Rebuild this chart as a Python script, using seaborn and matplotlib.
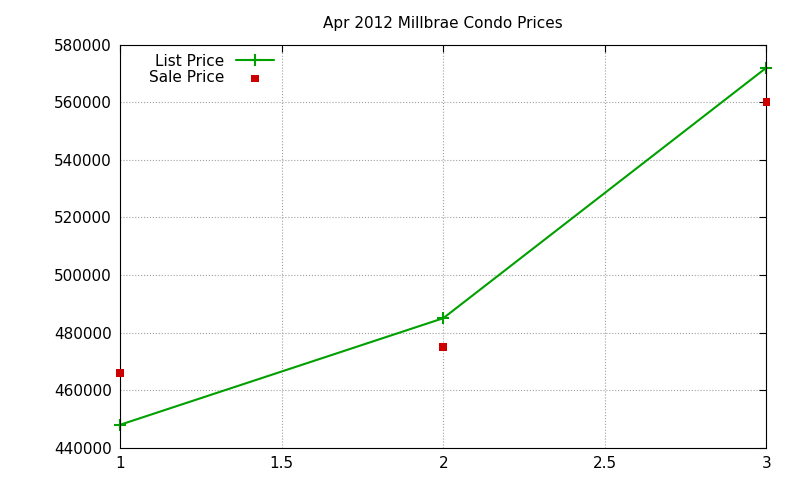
import matplotlib
matplotlib.use("Agg")
import matplotlib.pyplot as plt
import seaborn as sns
import pandas as pd

x = [1, 2, 3]
list_price = [448000, 485000, 572000]
sale_price = [466000, 475000, 560000]

sns.set_style("white")
plt.rcParams['font.family'] = ['DejaVu Sans']
plt.rcParams['text.color'] = 'black'
plt.rcParams['xtick.color'] = 'black'
plt.rcParams['ytick.color'] = 'black'
plt.rcParams['axes.labelcolor'] = 'black'
fig = plt.figure(figsize=(8, 4.8), dpi=100)
ax = fig.add_axes([0.15, 0.067, 0.808, 0.84])
df = pd.DataFrame({"x": x, "List Price": list_price, "Sale Price": sale_price})
sns.lineplot(data=df, x="x", y="List Price", ax=ax, color="#00a000", marker="+",
             markersize=8, markeredgewidth=1.5, markeredgecolor="#00a000",
             linewidth=1.5, label="List Price", clip_on=False)
sns.scatterplot(data=df, x="x", y="Sale Price", ax=ax, color="#cc0000", marker="s",
                s=30, edgecolor="none", label="Sale Price", clip_on=False, zorder=5)
ax.set_xlim(1, 3)
ax.set_ylim(440000, 580000)
ax.set_xticks([1, 1.5, 2, 2.5, 3])
ax.set_xticklabels(["1", "1.5", "2", "2.5", "3"])
ax.set_yticks(range(440000, 580001, 20000))
ax.grid(True, color="#a0a0a0", linestyle=":", linewidth=0.8)
for s in ax.spines.values():
    s.set_color("black"); s.set_linewidth(0.8)
ax.tick_params(direction="in", length=5, labelsize=11, top=True, right=True, pad=6)
ax.set_xlabel("")
ax.set_ylabel("Price", fontsize=11, labelpad=40)
ax.set_title("Apr 2012 Millbrae Condo Prices", fontsize=11, pad=12)
ax.legend(loc="upper left", markerfirst=False, frameon=False, fontsize=11,
          handlelength=2.5, borderaxespad=0.2, labelspacing=0.1, bbox_to_anchor=(0.03, 1.0))
fig.savefig("out.png", dpi=100)
